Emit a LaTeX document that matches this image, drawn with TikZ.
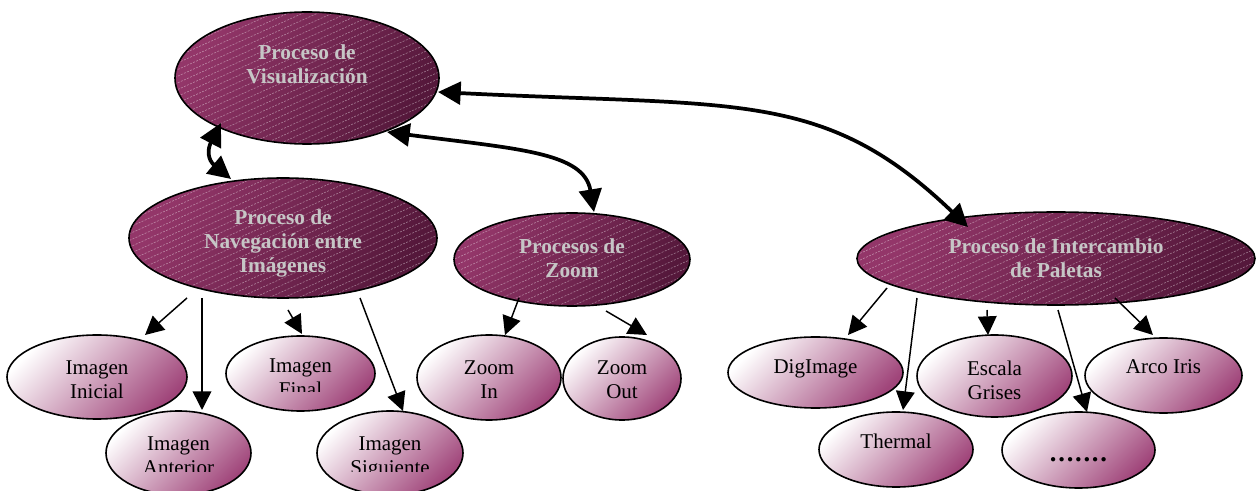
\documentclass[tikz,border=0pt]{standalone}
\usepackage{fontspec}
\setmainfont{Liberation Serif}
\usetikzlibrary{shapes.geometric,arrows.meta,calc}
\definecolor{dkA}{HTML}{933669}
\definecolor{dkB}{HTML}{55183B}
\definecolor{ltA}{HTML}{FFFFFF}
\definecolor{ltB}{HTML}{A0457A}
\definecolor{txtgray}{HTML}{C6C6C6}
\begin{document}
\begin{tikzpicture}[x=0.75pt,y=-0.75pt,
  stripes/.style={path picture={\foreach \k in {-24,...,24}{\draw[white,opacity=.4,line width=.45pt,dash pattern=on 1.5pt off 1pt]([shift={(-220pt,\k*5pt-99pt)}]path picture bounding box.center) -- ++(440pt,198pt);}}},
  dark/.style={ellipse,draw=black,line width=1.2pt,inner sep=0pt,top color=dkA,bottom color=dkB,shading angle=60,stripes},
  light/.style={ellipse,draw=black,line width=1.2pt,inner sep=0pt,top color=ltA,bottom color=ltB,shading angle=45},
  dtext/.style={align=center,text=txtgray,font=\fontsize{16}{18}\selectfont\bfseries,inner sep=0pt},
  ltext/.style={align=center,font=\fontsize{15.75}{18}\selectfont,inner sep=0pt},
  marr/.style={line width=2.8pt,{Triangle[length=17pt,width=17pt]}-{Triangle[length=17pt,width=17pt]}},
  carr/.style={line width=1.1pt,-{Triangle[length=14pt,width=14pt]}}]
\path[use as bounding box,fill=white] (0,0) rectangle (1257,491);

% main process nodes
\node[dark,minimum width=198pt,minimum height=99pt] (vis) at (307,78) {};
\node[dark,minimum width=231pt,minimum height=90pt] (nav) at (283,238) {};
\node[dark,minimum width=177pt,minimum height=69.75pt] (zoom) at (572,259.5) {};
\node[dark,minimum width=298.5pt,minimum height=69.75pt] (pal) at (1056,258.5) {};

\node[dtext] (vist) at (307,64.3) {Proceso de\\Visualización};
\node[dtext] (navt) at (283,243.3) {Proceso de\\Navegación entre\\Imágenes};
\node[dtext] (zoomt) at (572,258.3) {Procesos de\\Zoom};
\node[dtext] (palt) at (1056,258.3) {Proceso de Intercambio\\de Paletas};

% leaf nodes
\node[light,minimum width=135pt,minimum height=63pt] (ini) at (97,377) {};
\node[light,minimum width=108.75pt,minimum height=63pt] (ant) at (178.5,453) {};
\node[light,minimum width=111.75pt,minimum height=56.25pt] (fin) at (300.5,373.5) {};
\node[light,minimum width=109.5pt,minimum height=63pt] (sig) at (390,453) {};
\node[light,minimum width=108pt,minimum height=63.75pt] (zin) at (489,377.5) {};
\node[light,minimum width=88.5pt,minimum height=62.25pt] (zout) at (622,378.5) {};
\node[light,minimum width=131.25pt,minimum height=53.25pt] (dig) at (815.5,372.5) {};
\node[light,minimum width=115.5pt,minimum height=56.25pt] (the) at (896,449.5) {};
\node[light,minimum width=116.25pt,minimum height=61.5pt] (esc) at (994.5,376) {};
\node[light,minimum width=114.75pt,minimum height=57pt] (dots) at (1078.5,450) {};
\node[light,minimum width=117.75pt,minimum height=56.25pt] (arc) at (1163.5,375.5) {};

\node[ltext] (init) at (97,380) {Imagen\\Inicial};
\begin{scope}
  \clip (100,400) rectangle (260,472);
  \node[ltext] (antt) at (178.5,456) {Imagen\\Anterior};
\end{scope}
\begin{scope}
  \clip (226,330) rectangle (375,392);
  \node[ltext] (fint) at (300.5,378) {Imagen\\Final};
\end{scope}
\begin{scope}
  \clip (310,400) rectangle (470,472);
  \node[ltext] (sigt) at (390,458) {Imagen\\Siguiente};
\end{scope}
\node[ltext] (zint) at (489,380) {Zoom\\In};
\node[ltext] (zoutt) at (622,380) {Zoom\\Out};
\node[ltext,anchor=base] (digt) at (815.5,374) {DigImage};
\node[ltext,anchor=base] (thet) at (896,449) {Thermal};
\node[ltext] (esct) at (994.5,380) {Escala\\Grises};
\node[ltext,anchor=base,font=\fontsize{20}{22}\selectfont\bfseries] (dotst) at (1078.5,462) {.\hspace{1.3pt}.\hspace{1.3pt}.\hspace{1.3pt}.\hspace{1.3pt}.\hspace{1.3pt}.\hspace{1.3pt}.};
\node[ltext,anchor=base] (arct) at (1163.5,374) {Arco Iris};

% main connectors
\draw[marr] ($(vis)+(131,14)$) .. controls (738,107) and (824,89) .. ($(pal)+(-88,-31.5)$);
\draw[marr] ($(vis)+(80,54)$) .. controls (517,149) and (584,152) .. ($(zoom)+(22,-47.5)$);
\draw[marr] ($(vis)+(-86,45)$) .. controls (207,150) and (208,160) .. ($(nav)+(-52,-59)$);

% child connectors
\draw[carr] ($(nav)+(-96,60)$) -- ($(ini)+(48,-42)$);
\draw[carr] ($(nav)+(-81,60)$) -- ($(ant)+(23.5,-43)$);
\draw[carr] ($(nav)+(5,72)$) -- ($(fin)+(1.5,-39.5)$);
\draw[carr] ($(nav)+(77,60)$) -- ($(sig)+(13,-42)$);
\draw[carr] ($(zoom)+(-53,38.5)$) -- ($(zin)+(16,-42.5)$);
\draw[carr] ($(zoom)+(34,51.5)$) -- ($(zout)+(25,-43.5)$);
\draw[carr] ($(pal)+(-169,29.5)$) -- ($(dig)+(32.5,-37.5)$);
\draw[carr] ($(pal)+(-139,39.5)$) -- ($(the)+(7,-39.5)$);
\draw[carr] ($(pal)+(-69,51.5)$) -- ($(esc)+(-6.5,-41)$);
\draw[carr] ($(pal)+(2,51.5)$) -- ($(dots)+(8.5,-38)$);
\draw[carr] ($(pal)+(59,39.5)$) -- ($(arc)+(-10.5,-40.5)$);
\end{tikzpicture}
\end{document}
